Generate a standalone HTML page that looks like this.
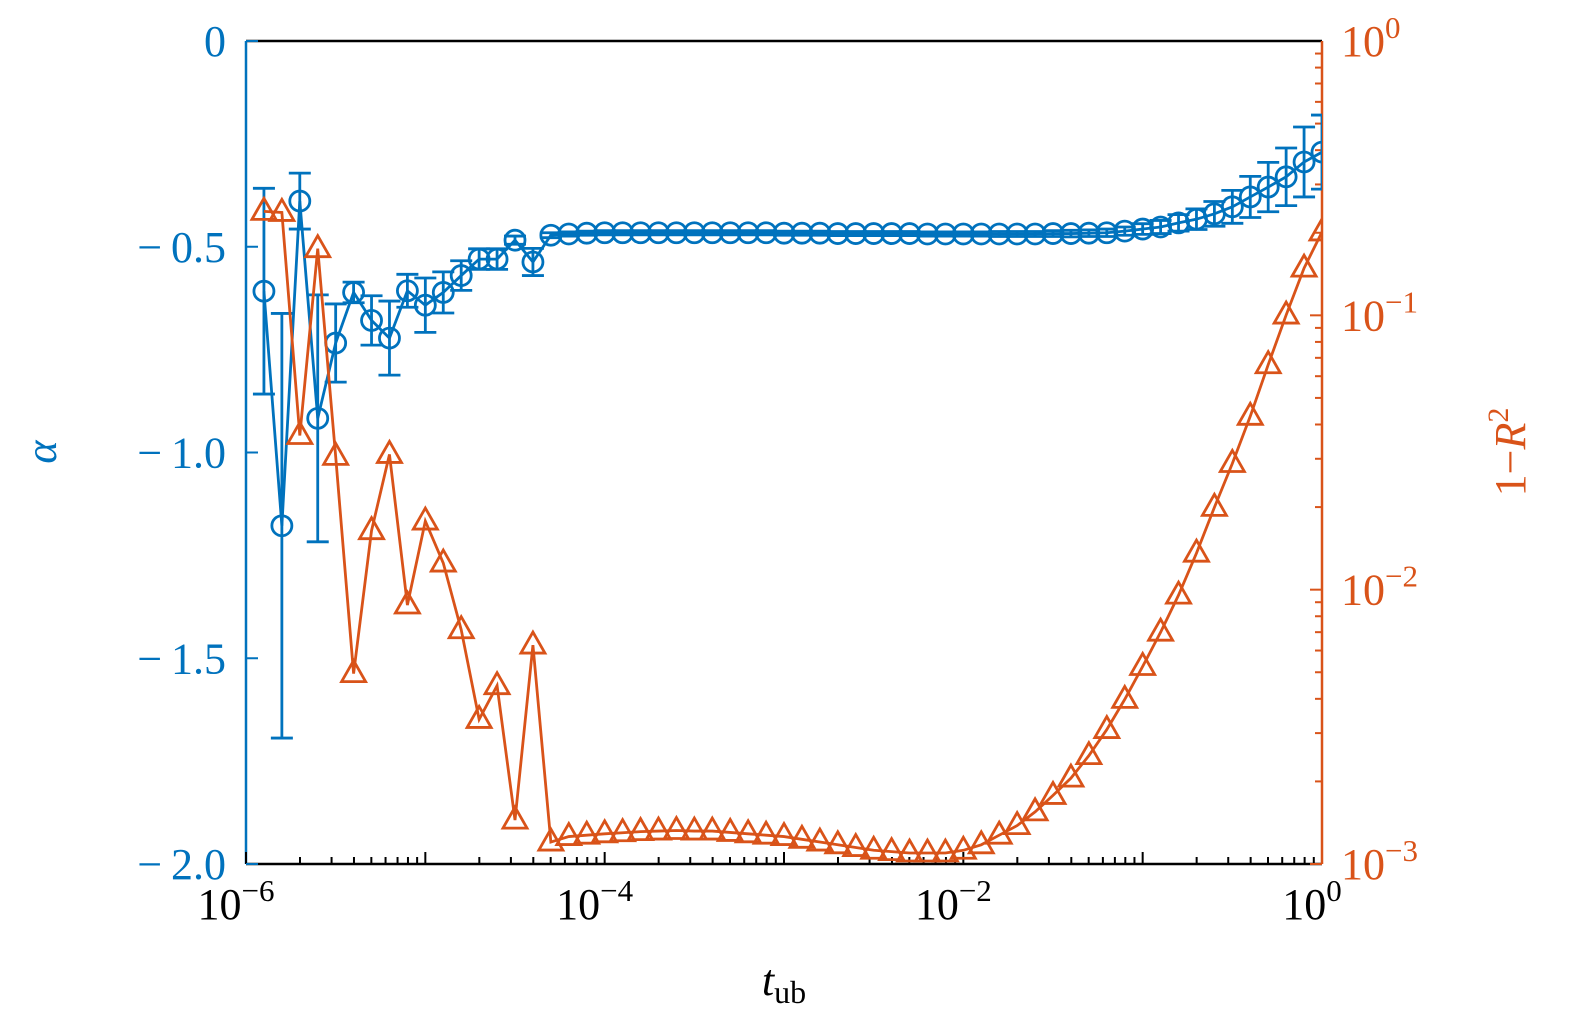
<!DOCTYPE html>
<html><head><meta charset="utf-8"><style>
html,body{margin:0;padding:0;background:#fff;}
svg{display:block;font-family:"Liberation Serif","DejaVu Serif",serif;}
</style></head><body>
<svg id="chart" width="1575" height="1024" viewBox="0 0 1575 1024" xmlns="http://www.w3.org/2000/svg">
<defs><clipPath id="clip"><rect x="246" y="41" width="1076" height="823"/></clipPath></defs>
<g id="plot"></g>
</svg>
<script>
const logT = [];
for (let k = 0; k < 60; k++) logT.push(+(-5.9 + 0.1 * k).toFixed(2));
const alphaVals = [-0.608,-1.178,-0.389,-0.917,-0.734,-0.611,-0.679,-0.722,-0.607,-0.642,-0.611,-0.570,-0.530,-0.530,-0.484,-0.537,-0.472,-0.469,
-0.467,-0.466,-0.466,-0.466,-0.466,-0.466,-0.466,-0.466,-0.466,-0.466,-0.466,-0.467,-0.467,-0.467,-0.468,-0.468,-0.468,-0.468,-0.468,-0.469,-0.469,-0.469,-0.469,-0.469,-0.469,-0.469,-0.468,-0.468,-0.467,-0.466,
-0.462,-0.457,-0.452,-0.442,-0.433,-0.420,-0.403,-0.379,-0.355,-0.330,-0.294,-0.27];
const alphaErr = [0.25,0.516,0.068,0.30,0.095,0.025,0.06,0.09,0.04,0.066,0.05,0.036,0.025,0.025,0.01,0.033,0.006,0.005,
0.005,0.005,0.005,0.005,0.005,0.005,0.005,0.005,0.005,0.005,0.005,0.005,0.005,0.005,0.005,0.005,0.005,0.005,0.005,0.005,0.005,0.005,0.005,0.006,0.006,0.006,0.007,0.008,0.008,0.009,
0.01,0.013,0.016,0.02,0.025,0.03,0.04,0.05,0.06,0.07,0.085,0.09];
const logOneMinusR2 = [-0.621,-0.625,-1.438,-0.757,-1.514,-2.306,-1.785,-1.507,-2.056,-1.75,-1.903,-2.146,-2.473,-2.35,-2.84,-2.202,-2.92,
-2.90,-2.895,-2.89,-2.886,-2.882,-2.88,-2.878,-2.88,-2.88,-2.885,-2.89,-2.895,-2.90,-2.91,-2.92,-2.93,-2.94,-2.95,-2.955,-2.96,-2.96,-2.96,
-2.95,-2.93,-2.895,-2.86,-2.81,-2.75,-2.687,-2.605,-2.51,-2.40,-2.28,-2.155,-2.02,-1.867,-1.70,-1.54,-1.368,-1.18,-0.999,-0.828,-0.696];
const leftTicks = [0,-0.5,-1.0,-1.5,-2.0];
const leftTickLabels = ["0","\u2212\u20090.5","\u2212\u20091.0","\u2212\u20091.5","\u2212\u20092.0"];
const xTickExp = [-6,-4,-2,0];
const xTickLabels = ["\u22126","\u22124","\u22122","0"];
const rightTickExp = [0,-1,-2,-3];
const rightTickLabels = ["0","\u22121","\u22122","\u22123"];

const X0=246,X1=1322,Y0=41,Y1=864;
const BLUE="#0072BD",ORANGE="#D95319";
const xs = lt => X0 + (lt + 6) / 6 * (X1 - X0);
const ya = a => Y0 + (0 - a) / 2 * (Y1 - Y0);
const yr = l => Y0 + (0 - l) / 3 * (Y1 - Y0);
const NS="http://www.w3.org/2000/svg";
const plot=document.getElementById('plot');
function mk(tag, attrs, parent){const e=document.createElementNS(NS,tag);for(const k in attrs)e.setAttribute(k,attrs[k]);(parent||plot).appendChild(e);return e;}

let e;
e=mk('line',{x1:X0,y1:Y0,x2:X1,y2:Y0,stroke:'#000','stroke-width':2.5});


e=mk('line',{x1:X0,y1:Y1,x2:X1,y2:Y1,stroke:'#000','stroke-width':2.5});


e=mk('line',{x1:X0,y1:Y0,x2:X0,y2:Y1,stroke:BLUE,'stroke-width':2.5});


e=mk('line',{x1:X1,y1:Y0,x2:X1,y2:Y1,stroke:ORANGE,'stroke-width':2.5});



for(let d=-6; d<0; d++){
  for(let m=1;m<10;m++){
    const x=xs(d+Math.log10(m)); const len=m===1?12:7;
    e=mk('line',{x1:x,y1:Y1,x2:x,y2:Y1-len,stroke:'#000','stroke-width':2});
    
    
  }
}
xTickExp.forEach((p,i)=>{
  const t=mk('text',{x:xs(p)-10,y:919,'text-anchor':'middle','font-size':44,fill:'#000'});
  
  
  t.textContent='10';
  const s=mk('tspan',{dy:-18,'font-size':31},t); s.textContent=xTickLabels[i];
});
leftTicks.forEach((v,i)=>{
  e=mk('line',{x1:X0,y1:ya(v),x2:X0+12,y2:ya(v),stroke:BLUE,'stroke-width':2});
  
  
  const t=mk('text',{x:226,y:ya(v)+15,'text-anchor':'end','font-size':44,fill:BLUE});
  
  
  t.textContent=leftTickLabels[i];
});
for(let d=-3; d<0; d++){
  for(let m=1;m<10;m++){
    const y=yr(d+Math.log10(m)); const len=m===1?12:7;
    e=mk('line',{x1:X1,y1:y,x2:X1-len,y2:y,stroke:ORANGE,'stroke-width':2});
    
    
  }
}
rightTickExp.forEach((p,i)=>{
  const t=mk('text',{x:1341,y:yr(p)+15,'font-size':44,fill:ORANGE});
  
  
  t.textContent='10';
  const s=mk('tspan',{dy:-18,'font-size':31},t); s.textContent=rightTickLabels[i];
});
e=mk('text',{x:784,y:995,'text-anchor':'middle','font-size':44,'font-style':'italic',fill:'#000'});


e.textContent='t';
let ts=mk('tspan',{dy:8,'font-size':32,'font-style':'normal'},e); ts.textContent='ub';
e=mk('text',{x:56,y:452,'text-anchor':'middle','font-size':44,'font-style':'italic',fill:BLUE,transform:'rotate(-90 56 452)'});


e.textContent='\u03B1';
e=mk('text',{x:1525,y:452,'text-anchor':'middle','font-size':44,fill:ORANGE,transform:'rotate(-90 1525 452)'});


e.textContent='1\u2212';
ts=mk('tspan',{'font-style':'italic'},e); ts.textContent='R';
ts=mk('tspan',{dy:-17,'font-size':30},e); ts.textContent='2';

const g=mk('g',{'clip-path':'url(#clip)'});


const bpts=logT.map((t,i)=>xs(t)+','+ya(alphaVals[i])).join(' ');
e=mk('polyline',{points:bpts,fill:'none',stroke:BLUE,'stroke-width':2.8},g);


logT.forEach((t,i)=>{
  const x=xs(t),yt=ya(alphaVals[i]+alphaErr[i]),yb=ya(alphaVals[i]-alphaErr[i]);
  const p=mk('path',{d:`M${x},${yt}V${yb}M${x-11},${yt}H${x+11}M${x-11},${yb}H${x+11}`,stroke:BLUE,'stroke-width':2.8,fill:'none'},g);
  
  
  const c=mk('circle',{cx:x,cy:ya(alphaVals[i]),r:10,fill:'none',stroke:BLUE,'stroke-width':2.8},g);
  
  
});
const opts=logT.map((t,i)=>xs(t)+','+yr(logOneMinusR2[i])).join(' ');
e=mk('polyline',{points:opts,fill:'none',stroke:ORANGE,'stroke-width':2.8},g);


logT.forEach((t,i)=>{
  const x=xs(t),y=yr(logOneMinusR2[i]);
  const p=mk('path',{d:`M${x},${y-13}L${x+12},${y+8}L${x-12},${y+8}Z`,fill:'none',stroke:ORANGE,'stroke-width':2.8},g);
  
  
});
</script>
</body></html>
